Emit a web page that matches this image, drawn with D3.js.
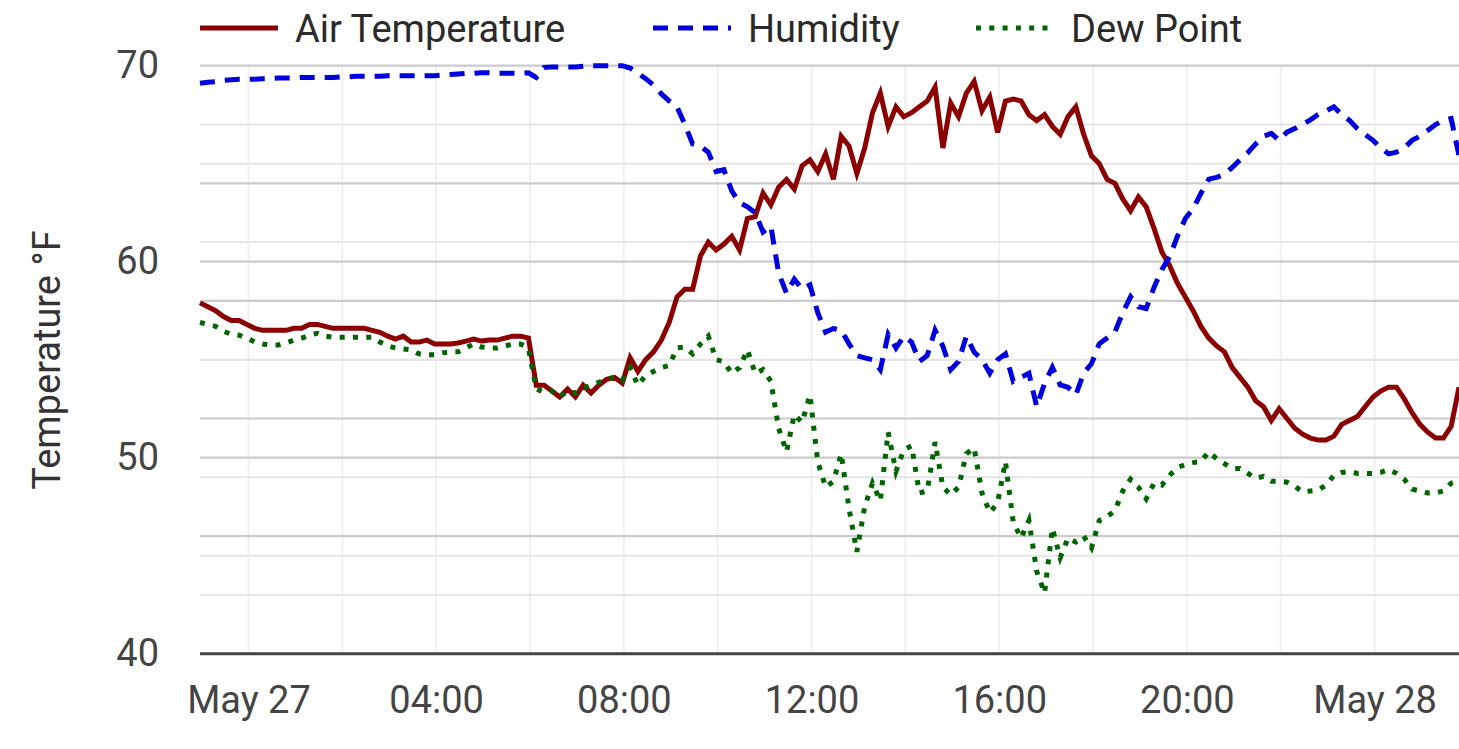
<!DOCTYPE html>
<html>
<head>
<meta charset="utf-8">
<script src="https://cdn.jsdelivr.net/npm/d3@7"></script>
<style>
  body { margin: 0; background: #fff; }
  text { font-family: Roboto, "Noto Sans", sans-serif; }
</style>
</head>
<body>
<div id="chart"></div>
<script>
// readings every 10 minutes, May 26 22:58 -> May 28 01:48
const startTime = new Date(2024, 4, 26, 22, 58);
const endTime = new Date(2024, 4, 28, 1, 48);

const airTemp = [
  57.9, 57.7, 57.5, 57.2, 57.0, 57.0, 56.8, 56.6, 56.5, 56.5,
  56.5, 56.5, 56.6, 56.6, 56.8, 56.8, 56.7, 56.6, 56.6, 56.6,
  56.6, 56.6, 56.5, 56.4, 56.2, 56.05, 56.2, 55.9, 55.9, 56.0,
  55.8, 55.8, 55.8, 55.85, 55.95, 56.05, 55.95, 56.0, 56.0, 56.1,
  56.2, 56.2, 56.1, 53.7, 53.7, 53.4, 53.1, 53.5, 53.1, 53.7,
  53.3, 53.7, 54.0, 54.1, 53.8, 55.1, 54.4, 55.0, 55.4, 56.0,
  56.9, 58.2, 58.6, 58.6, 60.3, 61.0, 60.6, 60.9, 61.3, 60.6,
  62.2, 62.3, 63.5, 62.9, 63.8, 64.2, 63.7, 64.9, 65.2, 64.6,
  65.5, 64.2, 66.4, 65.9, 64.5, 65.8, 67.6, 68.6, 66.9, 67.9,
  67.4, 67.6, 67.9, 68.2, 68.9, 65.8, 68.1, 67.4, 68.6, 69.2,
  67.7, 68.4, 66.6, 68.2, 68.3, 68.2, 67.5, 67.2, 67.5, 66.9,
  66.5, 67.4, 67.9, 66.5, 65.4, 65.0, 64.2, 64.0, 63.2, 62.6,
  63.3, 62.8, 61.7, 60.5, 59.8, 58.9, 58.2, 57.5, 56.7, 56.1,
  55.7, 55.4, 54.6, 54.1, 53.6, 52.9, 52.6, 51.9, 52.5, 52.0,
  51.5, 51.2, 51.0, 50.9, 50.9, 51.1, 51.7, 51.9, 52.1, 52.6,
  53.1, 53.4, 53.6, 53.6, 53.0, 52.3, 51.7, 51.3, 51.0, 51.0,
  51.6, 53.6
];

// relative humidity in %, plotted on a hidden 0-100 right axis
const humidity = [
  97.0, 97.2, 97.3, 97.5, 97.6, 97.7, 97.7, 97.7, 97.8, 97.8,
  97.9, 97.9, 97.9, 98.0, 98.0, 98.0, 98.0, 98.0, 98.1, 98.1,
  98.2, 98.2, 98.2, 98.2, 98.3, 98.3, 98.3, 98.3, 98.3, 98.3,
  98.3, 98.4, 98.5, 98.6, 98.7, 98.7, 98.8, 98.8, 98.7, 98.7,
  98.7, 98.7, 98.8, 98.0, 99.7, 99.8, 99.8, 99.8, 99.8, 99.9,
  100, 100, 100, 100, 100, 99.6, 98.7, 97.8, 96.7, 95.2,
  94.0, 93.0, 90.0, 86.7, 86.3, 85.3, 82.0, 82.3, 78.7, 76.7,
  76.0, 75.0, 71.7, 72.7, 64.7, 61.3, 63.7, 62.0, 62.7, 58.0,
  54.7, 55.3, 55.0, 52.7, 50.7, 50.3, 50.0, 48.3, 54.3, 52.0,
  54.0, 53.0, 49.7, 50.7, 55.0, 52.3, 48.3, 49.7, 54.0, 51.3,
  50.0, 47.7, 50.0, 51.0, 46.3, 47.0, 47.7, 42.0, 46.0, 48.7,
  45.7, 45.3, 44.0, 47.7, 49.3, 52.7, 53.7, 54.7, 58.0, 60.7,
  59.0, 58.7, 62.3, 65.3, 67.5, 71.0, 74.0, 75.7, 78.3, 80.7,
  81.0, 81.5, 82.7, 84.0, 85.2, 86.7, 88.0, 88.5, 87.3, 88.7,
  89.3, 90.0, 90.8, 91.7, 92.3, 93.0, 91.7, 90.7, 89.3, 88.3,
  87.3, 86.0, 85.0, 85.3, 86.0, 87.3, 88.0, 89.0, 90.0, 90.7,
  91.0, 84.7
];

const dewPoint = [
  56.9, 56.8, 56.7, 56.45, 56.3, 56.25, 56.1, 55.9, 55.8, 55.75,
  55.75, 55.85, 56.0, 56.1, 56.25, 56.35, 56.2, 56.15, 56.15, 56.15,
  56.15, 56.15, 56.15, 55.9, 55.7, 55.6, 55.55, 55.5, 55.3, 55.25,
  55.25, 55.35, 55.4, 55.4, 55.6, 55.8, 55.65, 55.6, 55.6, 55.7,
  55.8, 55.8, 55.6, 53.5, 53.35, 53.4, 53.1, 53.4, 53.3, 53.55,
  53.7, 53.85, 54.0, 54.1, 53.95, 54.6, 53.7, 54.2, 54.4, 54.6,
  54.7, 55.6, 55.65, 55.3, 55.8, 56.2, 55.0, 54.9, 54.3, 54.6,
  55.5, 54.3, 54.5, 53.9, 51.5, 50.3, 52.2, 51.8, 53.2, 49.8,
  48.5, 48.8, 50.2, 47.4, 45.2, 47.5, 48.7, 47.8, 51.3, 49.3,
  50.4, 50.6, 48.2, 48.3, 50.8, 48.5, 48.1, 48.5, 50.2, 50.5,
  48.2, 47.2, 47.7, 49.8, 46.7, 45.9, 46.8, 44.2, 43.1, 46.4,
  44.9, 45.9, 45.7, 46.0, 45.4, 46.8, 47.0, 47.3, 48.3, 48.9,
  48.5, 47.9, 48.7, 48.6, 49.1, 49.5, 49.65, 49.75, 49.8, 50.3,
  49.95, 49.7, 49.45, 49.45, 49.2, 48.95, 49.05, 48.8, 48.8, 48.75,
  48.55, 48.25, 48.3, 48.35, 48.6, 49.1, 49.25, 49.3, 49.2, 49.2,
  49.2, 49.25, 49.4, 49.2, 48.9, 48.4, 48.3, 48.2, 48.2, 48.3,
  48.7, 48.8
];

const tempTicks = [40, 50, 60, 70];
const tempMinorTicks = [45, 55, 65];
const humTicks = [20, 40, 60, 80];
const humMinorTicks = [10, 30, 50, 70, 90];

const seriesNames = ["Air Temperature", "Humidity", "Dew Point"];

// one timestamp per reading, 10 minutes apart
const times = airTemp.map((d, i) => d3.timeMinute.offset(startTime, 10 * i));

const W = 1459, H = 749;
const margin = { top: 65.7, right: 0, bottom: 95.3, left: 200 };
const width = W - margin.left - margin.right,
      height = H - margin.top - margin.bottom;

const svg = d3.select("#chart")
    .append("svg")
    .attr("width", W)
    .attr("height", H);

const g = svg.append("g")
    .attr("transform", `translate(${margin.left},${margin.top})`);

const x = d3.scaleTime().domain([startTime, endTime]).range([0, width]);
const y = d3.scaleLinear().domain([40, 70]).range([height, 0]);
const yHum = d3.scaleLinear().domain([0, 100]).range([height, 0]);

// vertical grid every 2 hours
g.append("g")
    .selectAll("line")
    .data(d3.timeHour.every(2).range(startTime, endTime))
    .enter().append("line")
    .attr("x1", d => x(d)).attr("x2", d => x(d))
    .attr("y1", 0).attr("y2", height)
    .attr("stroke", "#f0f0f0")
    .attr("stroke-width", 2);

// minor horizontal grid (both axes)
g.append("g")
    .selectAll("line")
    .data(tempMinorTicks.map(v => y(v)).concat(humMinorTicks.map(v => yHum(v))))
    .enter().append("line")
    .attr("x1", 0).attr("x2", width)
    .attr("y1", d => d).attr("y2", d => d)
    .attr("stroke", "#e6e6e6")
    .attr("stroke-width", 2);

// major horizontal grid (both axes)
g.append("g")
    .selectAll("line")
    .data(tempTicks.filter(v => v > 40).map(v => y(v)).concat(humTicks.map(v => yHum(v))))
    .enter().append("line")
    .attr("x1", 0).attr("x2", width)
    .attr("y1", d => d).attr("y2", d => d)
    .attr("stroke", "#cbcbcb")
    .attr("stroke-width", 2.2);

// axes
const yAxis = g.append("g")
    .call(d3.axisLeft(y).tickValues(tempTicks).tickSize(0).tickPadding(41));
yAxis.select(".domain").remove();
yAxis.selectAll("text")
    .attr("font-size", 38)
    .attr("font-family", "Roboto")
    .attr("fill", "#444");

const fmtDay = d3.timeFormat("%b %d"), fmtHour = d3.timeFormat("%H:%M");
const xAxis = g.append("g")
    .attr("transform", `translate(0,${height})`)
    .call(d3.axisBottom(x)
        .ticks(d3.timeHour.every(4))
        .tickFormat(d => d.getHours() === 0 ? fmtDay(d) : fmtHour(d))
        .tickSize(0).tickPadding(32));
xAxis.select(".domain").remove();
xAxis.selectAll("text")
    .attr("font-size", 38)
    .attr("font-family", "Roboto")
    .attr("fill", "#444");

g.append("line")
    .attr("x1", 0).attr("x2", width)
    .attr("y1", height).attr("y2", height)
    .attr("stroke", "#444")
    .attr("stroke-width", 3);

svg.append("text")
    .attr("transform", "translate(60,360) rotate(-90)")
    .attr("text-anchor", "middle")
    .attr("font-size", 38)
    .attr("fill", "#333")
    .text("Temperature °F");

// lines
const styles = [
    { color: "#8b0000", dash: null },
    { color: "#0000dd", dash: "15,10" },
    { color: "#006400", dash: "5,8.3" }
];

const lineTemp = d3.line().x((d, i) => x(times[i])).y(d => y(d));
const lineHum = d3.line().x((d, i) => x(times[i])).y(d => yHum(d));

const plotData = [
    { values: airTemp, gen: lineTemp },
    { values: humidity, gen: lineHum },
    { values: dewPoint, gen: lineTemp }
];

g.selectAll(".series")
    .data(plotData)
    .enter().append("path")
    .attr("class", "series")
    .attr("d", d => d.gen(d.values))
    .attr("fill", "none")
    .attr("stroke", (d, i) => styles[i].color)
    .attr("stroke-width", 5)
    .attr("stroke-dasharray", (d, i) => styles[i].dash);

// legend
const legendX = [200, 653, 976];
const legend = svg.append("g");
legend.selectAll("line")
    .data(seriesNames)
    .enter().append("line")
    .attr("x1", (d, i) => legendX[i])
    .attr("x2", (d, i) => legendX[i] + 78)
    .attr("y1", 28).attr("y2", 28)
    .attr("stroke", (d, i) => styles[i].color)
    .attr("stroke-width", 5)
    .attr("stroke-dasharray", (d, i) => styles[i].dash);
legend.selectAll("text")
    .data(seriesNames)
    .enter().append("text")
    .attr("x", (d, i) => legendX[i] + 95)
    .attr("y", 41.5)
    .attr("font-size", 38)
    .attr("fill", "#2a2a2a")
    .text(d => d);
</script>
</body>
</html>
